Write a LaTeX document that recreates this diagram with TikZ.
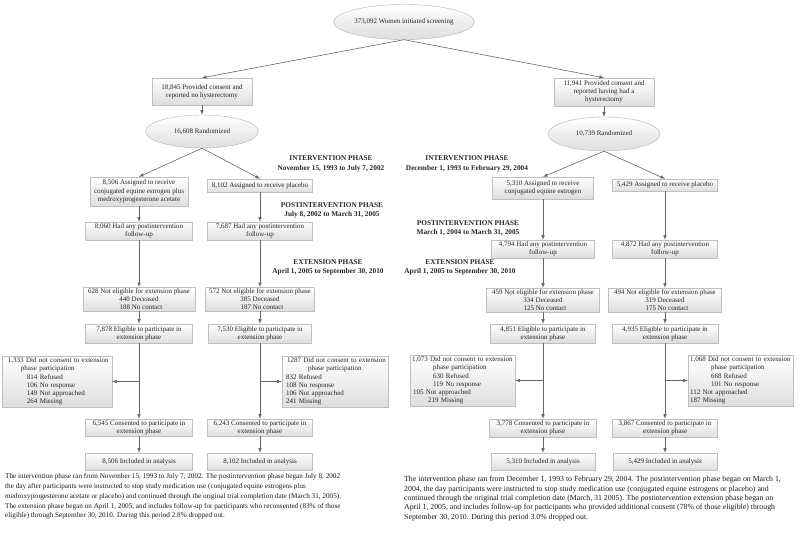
\documentclass[tikz,border=0pt]{standalone}
\usepackage{fontspec}
\setmainfont{Liberation Serif}
\usetikzlibrary{shapes.geometric}

\begin{document}
\begin{tikzpicture}[
        x=1pt, y=-1pt,
        stage/.style={rectangle, draw=black!25, top color=white, bottom color=black!13, align=center, inner sep=1pt, font=\fontsize{7}{8.2}\selectfont, text=black!85},
        refusals/.style={stage, align=left, inner xsep=2pt, minimum height=51pt},
        pool/.style={ellipse, draw=black!30, top color=white, bottom color=black!13, inner sep=0pt, font=\fontsize{7}{8.2}\selectfont, text=black!85},
        flow edge/.style={draw=black!60, line width=0.6pt, -latex},
        phase/.style={align=center, inner sep=0pt, font=\fontsize{7.3}{9.6}\selectfont\bfseries, text=black!85},
        note/.style={align=left, anchor=north west, inner sep=0pt, text=black!90}
    ]
    \useasboundingbox (0,0) rectangle (800,533);

    % Screening and consent
    \node[pool, minimum width=122pt, minimum height=35pt] (scr) at (404,22) {373,092 Women initiated screening};
    \node[stage, minimum width=100pt, minimum height=27pt] (noh) at (202,91.5) {18,845 Provided consent and\\reported no hysterectomy};
    \node[stage, minimum width=100pt, minimum height=28pt] (hys) at (604,92) {11,941 Provided consent and\\reported having had a\\hysterectomy};
    \node[pool, minimum width=113pt, minimum height=33pt] (rnda) at (202,131.5) {16,608 Randomized};
    \node[pool, minimum width=112pt, minimum height=34pt] (rndb) at (604,134) {10,739 Randomized};

    % Phase labels
    \node[phase] (ph1) at (331,164) {INTERVENTION PHASE\\November 15, 1993 to July 7, 2002};
    \node[phase] (ph2) at (332,210.5) {POSTINTERVENTION PHASE\\July 8, 2002 to March 31, 2005};
    \node[phase] (ph3) at (328,267.5) {EXTENSION PHASE\\April 1, 2005 to September 30, 2010};
    \node[phase] (ph4) at (467,164) {INTERVENTION PHASE\\December 1, 1993 to February 29, 2004};
    \node[phase] (ph5) at (468,228) {POSTINTERVENTION PHASE\\March 1, 2004 to March 31, 2005};
    \node[phase] (ph6) at (460,267.5) {EXTENSION PHASE\\April 1, 2005 to September 30, 2010};

    % Estrogen plus progestin trial
    \node[stage, minimum width=98pt, minimum height=29pt] (arm1) at (139,191.5) {8,506 Assigned to receive\\conjugated equine estrogen plus\\medroxyprogesterone acetate};
    \node[stage, minimum width=105pt, minimum height=13pt] (arm2) at (260,185.5) {8,102 Assigned to receive placebo};
    \node[stage, minimum width=107pt, minimum height=18pt] (fu1) at (139,231) {8,060 Had any postintervention\\follow-up};
    \node[stage, minimum width=105pt, minimum height=18pt] (fu2) at (260,231) {7,687 Had any postintervention\\follow-up};
    \node[stage, minimum width=112pt, minimum height=22pt] (ne1) at (139,299) {628 Not eligible for extension phase\\440 Deceased\\\hspace*{4pt}188 No contact};
    \node[stage, minimum width=109pt, minimum height=22pt] (ne2) at (260,299) {572 Not eligible for extension phase\\385 Deceased\\\hspace*{4pt}187 No contact};
    \node[stage, minimum width=107pt, minimum height=19pt] (el1) at (139,333.5) {7,878 Eligible to participate in\\extension phase};
    \node[stage, minimum width=103pt, minimum height=19pt] (el2) at (260,333.5) {7,530 Eligible to participate in\\extension phase};
    \node[refusals, text width=106pt] (nc1) at (57,381.5) {\hspace*{4pt}1,333 Did not consent to extension\\\hspace*{17pt}phase participation\\\hspace*{23pt}814 Refused\\\hspace*{23pt}106 No response\\\hspace*{23pt}149 Not approached\\\hspace*{23pt}264 Missing};
    \node[refusals, text width=102pt] (nc2) at (335,381.5) {\hspace*{3pt}1287 Did not consent to extension\\\hspace*{24pt}phase participation\\\hspace*{2pt}832 Refused\\\hspace*{2pt}108 No response\\\hspace*{2pt}106 Not approached\\\hspace*{2pt}241 Missing};
    \node[stage, minimum width=107pt, minimum height=17pt] (ok1) at (139,427.5) {6,545 Consented to participate in\\extension phase};
    \node[stage, minimum width=105pt, minimum height=17pt] (ok2) at (260,427.5) {6,243 Consented to participate in\\extension phase};
    \node[stage, minimum width=107pt, minimum height=17pt] (an1) at (139,461.5) {8,506 Included in analysis};
    \node[stage, minimum width=105pt, minimum height=17pt] (an2) at (260,461.5) {8,102 Included in analysis};

    % Estrogen-alone trial
    \node[stage, minimum width=101pt, minimum height=22pt] (arm3) at (543,188) {5,310 Assigned to receive\\conjugated equine estrogen};
    \node[stage, minimum width=105pt, minimum height=12pt] (arm4) at (665,185) {5,429 Assigned to receive placebo};
    \node[stage, minimum width=103pt, minimum height=18pt] (fu3) at (543,249) {4,794 Had any postintervention\\follow-up};
    \node[stage, minimum width=105pt, minimum height=18pt] (fu4) at (665,249) {4,872 Had any postintervention\\follow-up};
    \node[stage, minimum width=113pt, minimum height=24pt] (ne3) at (543,300) {459 Not eligible for extension phase\\334 Deceased\\\hspace*{4pt}125 No contact};
    \node[stage, minimum width=113pt, minimum height=24pt] (ne4) at (665,300) {494 Not eligible for extension phase\\319 Deceased\\\hspace*{4pt}175 No contact};
    \node[stage, minimum width=105pt, minimum height=19pt] (el3) at (543,333.5) {4,851 Eligible to participate in\\extension phase};
    \node[stage, minimum width=106pt, minimum height=19pt] (el4) at (665,333.5) {4,935 Eligible to participate in\\extension phase};
    \node[refusals, text width=101pt] (nc3) at (462.5,380.5) {\hspace*{0pt}1,073 Did not consent to extension\\\hspace*{21pt}phase participation\\\hspace*{21pt}630 Refused\\\hspace*{21pt}119 No response\\\hspace*{1pt}105 Not approached\\\hspace*{16pt}219 Missing};
    \node[refusals, text width=101pt] (nc4) at (740.5,380.5) {\hspace*{0pt}1,068 Did not consent to extension\\\hspace*{21pt}phase participation\\\hspace*{21pt}668 Refused\\\hspace*{21pt}101 No response\\\hspace*{0pt}112 Not approached\\\hspace*{0pt}187 Missing};
    \node[stage, minimum width=107pt, minimum height=18pt] (ok3) at (543,428) {3,778 Consented to participate in\\extension phase};
    \node[stage, minimum width=105pt, minimum height=18pt] (ok4) at (665,428) {3,867 Consented to participate in\\extension phase};
    \node[stage, minimum width=104pt, minimum height=17pt] (an3) at (543,461.5) {5,310 Included in analysis};
    \node[stage, minimum width=104pt, minimum height=17pt] (an4) at (665,461.5) {5,429 Included in analysis};

    % Branch points for the refusal boxes
    \coordinate (j1) at (el1.south |- nc1.east);
    \coordinate (j2) at (el2.south |- nc2.west);
    \coordinate (j3) at (el3.south |- nc3.east);
    \coordinate (j4) at (el4.south |- nc4.west);

    % Connectors
    \draw[flow edge] (scr.south) -- (noh.north);
    \draw[flow edge] (scr.south) -- (hys.north);
    \draw[flow edge] (noh) -- (rnda);
    \draw[flow edge] (hys) -- (rndb);
    \draw[flow edge] (rnda.south) -- (arm1.north);
    \draw[flow edge] (rnda.south) -- (arm2.north);
    \draw[flow edge] (rndb.south) -- (arm3.north);
    \draw[flow edge] (rndb.south) -- (arm4.north);
    \foreach \u/\v in {arm1/fu1, fu1/ne1, ne1/el1, el1/ok1, ok1/an1,
                       arm2/fu2, fu2/ne2, ne2/el2, el2/ok2, ok2/an2,
                       arm3/fu3, fu3/ne3, ne3/el3, el3/ok3, ok3/an3,
                       arm4/fu4, fu4/ne4, ne4/el4, el4/ok4, ok4/an4}
        \draw[flow edge] (\u) -- (\v);
    \draw[flow edge] (j1) -- (nc1.east);
    \draw[flow edge] (j2) -- (nc2.west);
    \draw[flow edge] (j3) -- (nc3.east);
    \draw[flow edge] (j4) -- (nc4.west);

    % Footnotes
    \node[note, font=\fontsize{7.2}{9.75}\selectfont] (fn1) at (5,473.5) {The intervention phase ran from November 15, 1993 to July 7, 2002. The postintervention phase began July 8, 2002\\the day after participants were instructed to stop study medication use (conjugated equine estrogens plus\\medroxyprogesterone acetate or placebo) and continued through the original trial completion date (March 31, 2005).\\The extension phase began on April 1, 2005, and includes follow-up for participants who reconsented (83\% of those\\eligible) through September 30, 2010. During this period 2.8\% dropped out.};
    \node[note, font=\fontsize{7.8}{9.35}\selectfont] (fn2) at (404,476) {The intervention phase ran from December 1, 1993 to February 29, 2004. The postintervention phase began on March 1,\\2004, the day participants were instructed to stop study medication use (conjugated equine estrogens or placebo) and\\continued through the original trial completion date (March, 31 2005). The postintervention extension phase began on\\April 1, 2005, and includes follow-up for participants who provided additional consent (78\% of those eligible) through\\September 30, 2010. During this period 3.0\% dropped out.};
\end{tikzpicture}
\end{document}
